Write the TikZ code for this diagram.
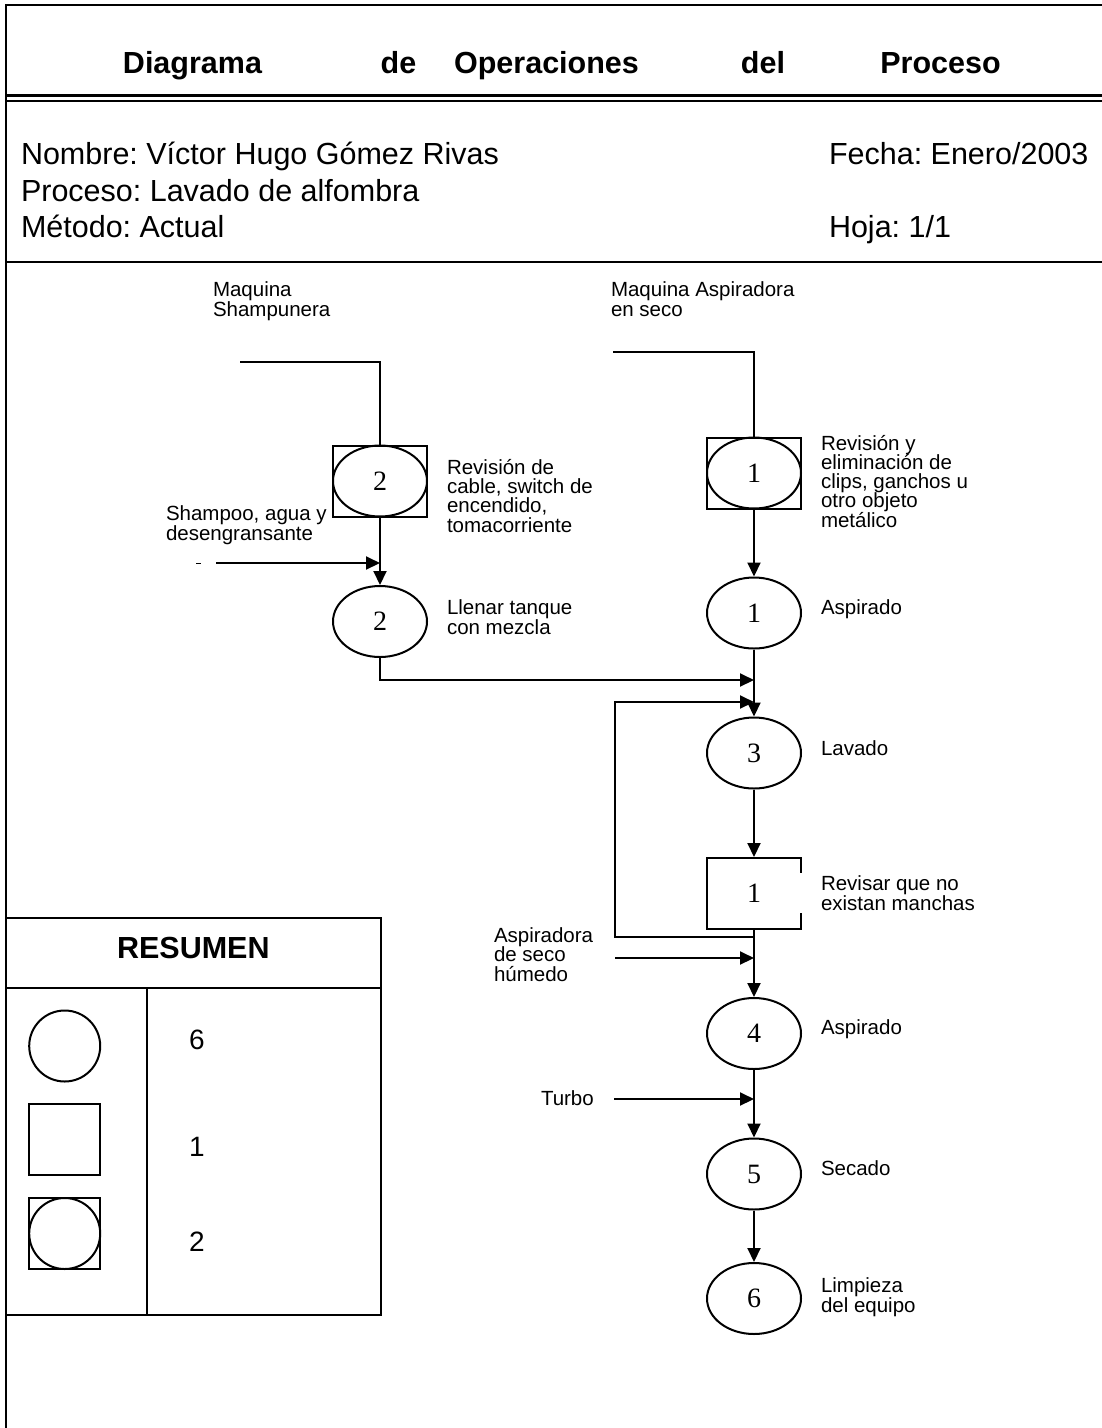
\documentclass[tikz,border=0pt]{standalone}
\usepackage{fontspec}
\setmainfont{Liberation Sans}
\newfontfamily\digfont{Liberation Serif}
\usetikzlibrary{shapes.geometric,arrows.meta}
\frenchspacing
\lineskiplimit=-10pt
\begin{document}
\begin{tikzpicture}[x=1pt,y=-1pt,line width=2pt,
  arr/.style={line width=2pt,-{Triangle[length=14pt,width=13pt]}},
  opn/.style={ellipse,draw,line width=2pt,minimum width=94pt,minimum height=71pt,inner sep=0pt,font=\digfont\fontsize{28}{28}\selectfont},
  boxn/.style={rectangle,draw,line width=2pt,minimum width=94pt,minimum height=71pt,inner sep=0pt,font=\digfont\fontsize{28}{28}\selectfont},
  lbl/.style={anchor=base west,align=left,inner sep=0pt,font=\frenchspacing\fontsize{20.5}{19.2}\selectfont},
  big/.style={anchor=base west,inner sep=0pt,font=\frenchspacing\fontsize{30.5}{36}\selectfont},
  ttl/.style={anchor=base,inner sep=0pt,font=\bfseries\fontsize{30.5}{36}\selectfont},
  num/.style={inner sep=0pt,font=\fontsize{28}{28}\selectfont},
  sym/.style={draw,line width=2pt,inner sep=0pt,minimum size=71pt}
]
\useasboundingbox (0,0) rectangle (1102,1428);
% frame
\draw (1102,5) -- (6,5) -- (6,1428);
\draw[line width=2.8pt] (6,95.8) -- (1102,95.8);
\draw[line width=1.6pt] (6,101.2) -- (1102,101.2);
\draw (6,262) -- (1102,262);
% title
\node[ttl] (t1) at (192.5,73) {Diagrama};
\node[ttl] (t2) at (398.5,73) {de};
\node[ttl] (t3) at (546.5,73) {Operaciones};
\node[ttl] (t4) at (763,73) {del};
\node[ttl] (t5) at (940.5,73) {Proceso};
% header info
\node[big] (nom) at (20,164) {Nombre: Víctor Hugo Gómez Rivas};
\node[big] (pro) at (20,201) {Proceso: Lavado de alfombra};
\node[big] (met) at (20,237) {Método: Actual};
\node[big] (fec) at (828,164) {Fecha: Enero/2003};
\node[big] (hoj) at (828,237) {Hoja: 1/1};
% flow nodes
\node[boxn] (ib2) at (380,481) {};
\node[opn] (ie2) at (380,481) {2};
\node[boxn] (ib1) at (754,473) {};
\node[opn] (ie1) at (754,473) {1};
\node[opn] (op2) at (380,621.5) {2};
\node[opn] (op1) at (754,613) {1};
\node[opn] (op3) at (754,753) {3};
\node[boxn] (rev) at (754,893.5) {1};
\node[opn] (op4) at (754,1033.5) {4};
\node[opn] (op5) at (754,1174) {5};
\node[opn] (op6) at (754,1298.5) {6};
% coordinates
\coordinate (ms) at (240,362);
\coordinate (ma) at (613,352);
\coordinate (sh0) at (216,563);
\coordinate (sh1) at (380,563);
\coordinate (j2) at (754,680);
\coordinate (lb) at (754,937);
\coordinate (l1) at (615,937);
\coordinate (l2) at (615,702);
\coordinate (lt) at (754,702);
\coordinate (as0) at (615,958);
\coordinate (as1) at (754,958);
\coordinate (tu0) at (614,1099);
\coordinate (tu1) at (754,1099);
\coordinate (dm0) at (196,563);
\coordinate (dm1) at (201,563);
% connectors
\draw (ms) -| (ib2.north);
\draw (ma) -| (ib1.north);
\draw[arr] (ib2.south) -- (op2.north);
\draw[arr] (sh0) -- (sh1);
\draw[line width=1pt] (dm0) -- (dm1);
\draw[arr] (ib1.south) -- (op1.north);
\draw[arr] (op2.south) |- (j2);
\draw[arr] (op1.south) -- (op3.north);
\draw[arr] (lb) -- (l1) -- (l2) -- (lt);
\draw[arr] (op3.south) -- (rev.north);
\draw[arr] (rev.south) -- (op4.north);
\draw[arr] (as0) -- (as1);
\draw[arr] (op4.south) -- (op5.north);
\draw[arr] (tu0) -- (tu1);
\draw[arr] (op5.south) -- (op6.north);
% labels (anchor = baseline of the last line)
\node[lbl] (lms) at (212,316) {Maquina\\Shampunera};
\node[lbl] (lma) at (610,316) {Maquina Aspiradora\\en seco};
\node[lbl] (lrv2) at (446,532) {Revisión de\\cable, switch de\\encendido,\\tomacorriente};
\node[lbl] (lsh) at (165,540) {Shampoo, agua y\\desengransante};
\node[lbl] (lll) at (446,634) {Llenar tanque\\con mezcla};
\node[lbl] (lrv1) at (820,527) {Revisión y\\eliminación de\\clips, ganchos u\\otro objeto\\metálico};
\node[lbl] (lasp1) at (820,614) {Aspirado};
\node[lbl] (llav) at (820,755) {Lavado};
\node[lbl,fill=white,inner xsep=22pt,inner ysep=3pt] (lrev) at (798,910) {Revisar que no\\existan manchas};
\node[lbl] (lash) at (493,981) {Aspiradora\\de seco\\húmedo};
\node[lbl] (lasp4) at (820,1034) {Aspirado};
\node[lbl] (ltur) at (540,1105) {Turbo};
\node[lbl] (lsec) at (820,1175) {Secado};
\node[lbl] (llim) at (820,1312) {Limpieza\\del equipo};
% summary table
\draw (6,917.7) -- (380.7,917.7) -- (380.7,1315) -- (6,1315);
\draw (6,988.3) -- (380.7,988.3);
\draw (146.7,988.3) -- (146.7,1315);
\node[ttl] (res) at (193.3,958) {RESUMEN};
\node[sym,circle] (sc) at (64.7,1046) {};
\node[sym,rectangle] (ss) at (64.7,1139.7) {};
\node[sym,rectangle] (sb) at (64.7,1233.5) {};
\node[sym,circle] (sbc) at (64.7,1233.5) {};
\node[num] (n6) at (197,1040) {6};
\node[num] (n1) at (197,1147) {1};
\node[num] (n2) at (197,1242) {2};
\end{tikzpicture}
\end{document}
